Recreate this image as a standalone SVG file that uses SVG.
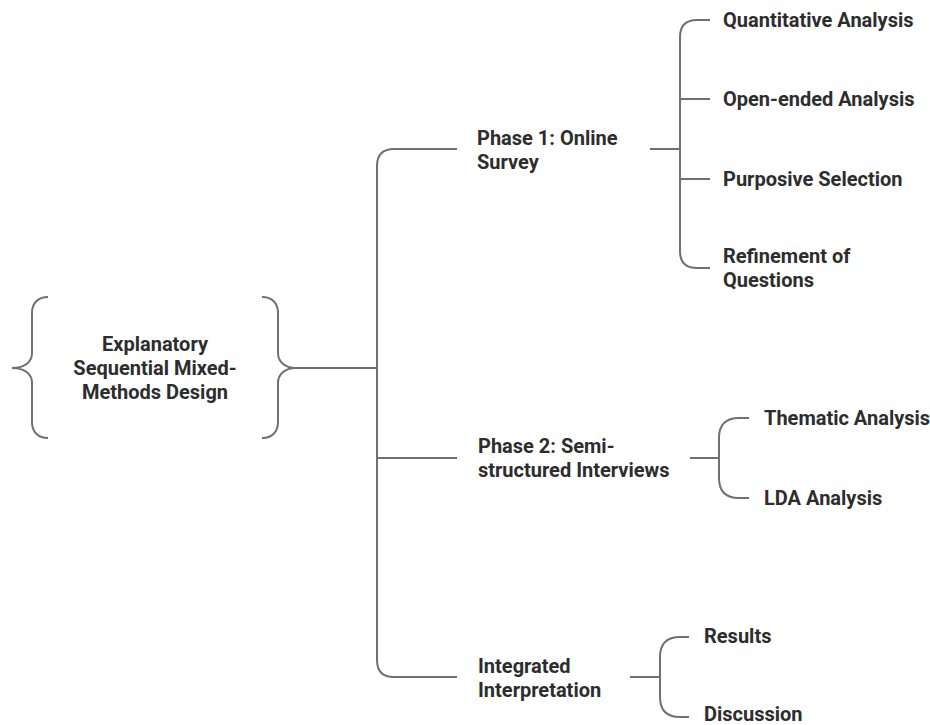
<svg xmlns="http://www.w3.org/2000/svg" width="930" height="725" viewBox="0 0 930 725">
<style>
.t{font-family:Roboto,"Liberation Sans",sans-serif;font-weight:700;font-size:20px;fill:#2d2d2d}
.c{fill:none;stroke:#707070;stroke-width:2;stroke-linecap:butt}
</style>
<rect width="930" height="725" fill="#ffffff"/>
<g id="connectors">
<path class="c" d="M48,297 C38,297 32,303 32,313 L32,353 C32,361 26,368 12,368 C26,368 32,375 32,383 L32,422 C32,432 38,438 48,438"/>
<path class="c" d="M262,297 C272,297 278,303 278,313 L278,353 C278,361 284,368 296,368 C284,368 278,375 278,383 L278,422 C278,432 272,438 262,438"/>
<path class="c" d="M296,368 H377"/>
<path class="c" d="M457,149 H394 Q377,149 377,166 V660 Q377,677 394,677 H457"/>
<path class="c" d="M377,458 H457"/>
<path class="c" d="M650,149 H680"/>
<path class="c" d="M710,20 H697 Q680,20 680,37 V251 Q680,268 697,268 H710"/>
<path class="c" d="M680,99 H710 M680,179 H710"/>
<path class="c" d="M690,458 H719"/>
<path class="c" d="M749,418 H739 Q719,418 719,438 V478 Q719,498 739,498 H749"/>
<path class="c" d="M630,677 H660"/>
<path class="c" d="M689,637 H680 Q660,637 660,657 V697 Q660,717 680,717 H689"/>
</g>
<g id="root">
<text class="t" x="155" y="351" text-anchor="middle">Explanatory</text>
<text class="t" x="155" y="375" text-anchor="middle">Sequential Mixed-</text>
<text class="t" x="155" y="399" text-anchor="middle">Methods Design</text>
</g>
<g id="phase1">
<text class="t" x="477" y="145">Phase 1: Online</text>
<text class="t" x="477" y="169">Survey</text>
</g>
<g id="quantitative"><text class="t" x="723" y="27">Quantitative Analysis</text></g>
<g id="openended"><text class="t" x="723" y="106">Open-ended Analysis</text></g>
<g id="purposive"><text class="t" x="723" y="186">Purposive Selection</text></g>
<g id="refinement">
<text class="t" x="723" y="263">Refinement of</text>
<text class="t" x="723" y="287">Questions</text>
</g>
<g id="phase2">
<text class="t" x="478" y="453">Phase 2: Semi-</text>
<text class="t" x="478" y="477">structured Interviews</text>
</g>
<g id="thematic"><text class="t" x="764" y="425">Thematic Analysis</text></g>
<g id="lda"><text class="t" x="764" y="505">LDA Analysis</text></g>
<g id="integrated">
<text class="t" x="478" y="673">Integrated</text>
<text class="t" x="478" y="697">Interpretation</text>
</g>
<g id="results"><text class="t" x="704" y="643">Results</text></g>
<g id="discussion"><text class="t" x="704" y="721">Discussion</text></g>
</svg>
